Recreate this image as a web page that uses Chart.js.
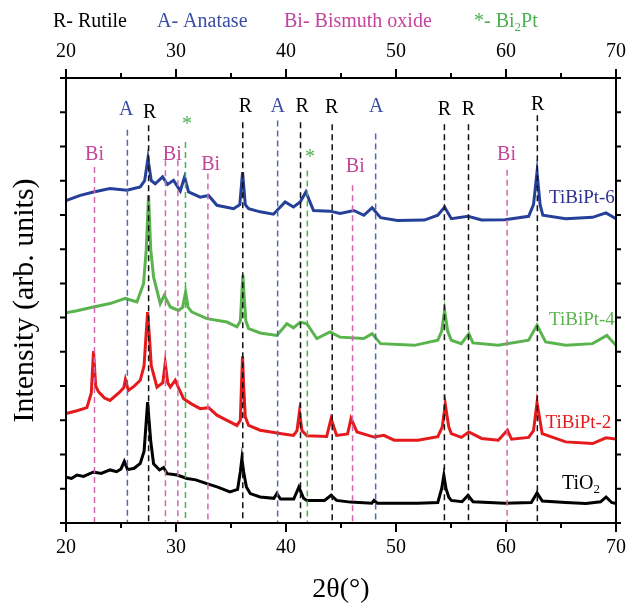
<!DOCTYPE html>
<html>
<head>
<meta charset="utf-8">
<script src="https://cdn.jsdelivr.net/npm/chart.js@4"></script>
<style>
  html, body { margin: 0; padding: 0; background: #fff; }
  #box { width: 628px; height: 603px; }
</style>
</head>
<body>
<div id="box"><canvas id="xrd" width="628" height="603"></canvas></div>
<script>
// data: [2theta, intensity]

const tio2 = [[20,1.34],[20.5,1.30],[21,1.40],[21.6,1.36],[22.5,1.49],[23.2,1.45],[24,1.55],[24.6,1.50],[25,1.58],[25.3,1.80],[25.6,1.56],[26.2,1.60],[26.75,1.74],[27.1,2.1],[27.3,3.0],[27.42,3.53],[27.55,3.0],[27.7,2.4],[27.96,1.73],[28.5,1.55],[28.87,1.62],[29.2,1.44],[30.1,1.40],[31,1.30],[31.8,1.26],[32.8,1.15],[33.8,1.05],[34.9,0.91],[35.6,0.98],[35.85,1.5],[35.99,1.88],[36.15,1.5],[36.4,1.05],[36.75,0.86],[37.65,0.76],[38.9,0.72],[39.17,0.86],[39.5,0.70],[40.7,0.70],[41.17,1.05],[41.6,0.72],[41.9,0.66],[43.5,0.66],[44.1,0.81],[44.6,0.66],[45.85,0.61],[47.8,0.58],[48,0.66],[48.3,0.58],[50,0.58],[52,0.58],[53.8,0.60],[54.15,1.0],[54.35,1.39],[54.55,1.0],[54.8,0.75],[55.03,0.66],[56,0.62],[56.55,0.81],[57,0.62],[59.9,0.58],[62.3,0.60],[62.82,0.88],[63.3,0.64],[65.43,0.60],[67.27,0.57],[68.6,0.62],[69.1,0.76],[69.6,0.60],[70,0.57]];

const tibipt2 = [[20,3.20],[21,3.28],[21.9,3.37],[22.3,3.8],[22.5,5.02],[22.7,4.0],[22.96,3.83],[23.5,3.65],[24,3.58],[24.9,3.83],[25.25,3.95],[25.4,4.19],[25.6,3.95],[25.7,3.88],[26.2,4.0],[26.75,4.17],[27.1,4.6],[27.3,5.6],[27.42,6.16],[27.55,5.6],[27.75,4.6],[28.27,3.97],[28.8,4.1],[29.02,4.67],[29.25,4.1],[29.48,3.97],[29.93,4.17],[30.3,3.9],[30.69,3.63],[31.4,3.48],[32.2,3.34],[32.96,3.37],[33.72,3.15],[34.63,3.0],[35.54,2.85],[35.85,3.0],[35.95,4.0],[36.05,4.87],[36.15,4.0],[36.3,3.1],[36.6,2.85],[37.65,2.71],[39.6,2.61],[40.68,2.56],[41,2.7],[41.22,3.24],[41.45,2.7],[41.9,2.55],[43.7,2.53],[44.1,3.05],[44.6,2.56],[45.6,2.6],[45.91,3.05],[46.45,2.66],[48,2.51],[48.9,2.56],[49.83,2.42],[52,2.42],[53.8,2.52],[54.2,2.8],[54.48,3.47],[54.8,2.8],[55.03,2.61],[55.94,2.5],[56.62,2.66],[57.78,2.47],[59.3,2.42],[60.13,2.71],[60.5,2.45],[62.06,2.5],[62.5,2.7],[62.82,3.51],[63.29,2.61],[65.43,2.37],[67.87,2.32],[69.09,2.49],[70,2.45]];

const tibipt4 = [[20,6.14],[21,6.2],[22.5,6.31],[24,6.41],[25.4,6.56],[26.45,6.46],[27.05,6.99],[27.3,8.0],[27.5,9.57],[27.7,8.0],[27.96,7.19],[28.57,6.41],[28.93,6.65],[29.48,6.31],[30.23,6.21],[30.6,6.3],[30.87,6.75],[31.1,6.3],[31.45,6.16],[32.81,5.97],[34.63,5.87],[35.54,5.73],[35.85,5.9],[35.97,6.6],[36.08,7.24],[36.2,6.6],[36.35,5.9],[36.6,5.68],[37.65,5.55],[39.17,5.48],[40.08,5.82],[40.68,5.7],[41.3,5.87],[41.9,5.82],[42.8,5.39],[44,5.58],[44.9,5.43],[47.08,5.39],[47.83,5.53],[48.6,5.24],[51.67,5.19],[53.8,5.34],[54.15,5.6],[54.42,6.21],[54.7,5.6],[55.03,5.34],[55.94,5.24],[56.62,5.53],[57,5.26],[59.3,5.19],[62.06,5.34],[62.82,5.78],[63.6,5.29],[65.43,5.19],[67.87,5.24],[69.17,5.48],[70,5.19]];

const tibipt6 = [[20,9.42],[21.3,9.57],[22.5,9.67],[24,9.77],[25.54,9.72],[26.75,9.82],[27.15,10.0],[27.45,10.65],[27.75,10.0],[28.11,9.91],[28.78,10.11],[29.23,9.89],[29.78,10.01],[30.39,9.7],[30.78,10.11],[31.14,9.67],[32.2,9.52],[32.96,9.57],[33.72,9.28],[35.23,9.18],[35.8,9.3],[36.05,10.25],[36.3,9.3],[36.6,9.18],[37.65,9.09],[38.86,9.02],[39.92,9.38],[40.68,9.23],[41.29,9.38],[41.81,9.67],[42.5,9.13],[44,9.11],[44.92,9.04],[46.16,9.13],[47.08,8.99],[47.83,9.21],[48.6,8.92],[50.13,8.84],[52.58,8.85],[53.8,8.99],[54.42,9.23],[55.03,8.89],[56.55,8.96],[57.78,8.85],[59.9,8.86],[62.06,8.96],[62.5,9.3],[62.82,10.25],[63.1,9.3],[63.35,8.99],[65.43,8.89],[67.87,8.93],[69.09,9.06],[70,8.89]];

// reference lines (phase markers)
const markerPos  = [22.59, 25.58, 27.51, 29.04, 30.17, 30.86, 32.9, 36.07, 39.24, 41.32, 41.94, 44.2, 46.05, 48.15, 54.4, 56.59, 60.1, 62.85];
const markerTop  = [10.40, 11.49, 11.62, 10.60, 10.60, 11.13, 10.21, 11.71, 11.76, 11.71, 10.30, 11.65, 9.87, 11.38, 11.65, 11.65, 10.32, 11.91];
const markerKind = ['Bi', 'A', 'R', 'Bi', 'Bi', '*', 'Bi', 'R', 'A', 'R', '*', 'R', 'Bi', 'A', 'R', 'R', 'Bi', 'R'];

// marker letters above the lines
const tagText = ['Bi', 'A', 'R', 'Bi', '*', 'Bi', 'R', 'A', 'R', '*', 'R', 'Bi', 'A', 'R', 'R', 'Bi', 'R'];
const tagX    = [22.59, 25.47, 27.6, 29.66, 31.0, 33.15, 36.3, 39.24, 41.46, 42.19, 44.16, 46.3, 48.2, 54.4, 56.59, 60.05, 62.89];
const tagY    = [10.77, 12.06, 11.98, 10.77, 11.62, 10.48, 12.17, 12.17, 12.17, 10.68, 12.14, 10.40, 12.15, 12.06, 12.06, 10.77, 12.22];

const seriesNames = ['TiBiPt-6', 'TiBiPt-4', 'TiBiPt-2', 'TiO'];
const nameX = [63.91, 63.91, 63.59, 65.09];
const nameY = [9.5, 5.92, 2.93, 1.16];

const lineColor = { R: '#111111', A: '#5068b4', Bi: '#d366ae', '*': '#45b64a' };
const tagColor  = { R: '#000000', A: '#3a4ea6', Bi: '#c4449c', '*': '#4cb050' };
const seriesColor = ['#26409a', '#5ab44e', '#e41a1c', '#000000'];
const nameColor   = ['#2e3192', '#5ab44e', '#e41a1c', '#000000'];

const SERIF = '"Liberation Serif", "Times New Roman", serif';

// build datasets

const datasets = [];
markerPos.forEach((p, i) => {
    datasets.push({
        data: [{ x: p, y: markerTop[i] }, { x: p, y: 0 }],
        borderColor: lineColor[markerKind[i]],
        borderWidth: 1.5,
        borderDash: [6, 4],
        pointRadius: 0
    });
});
[tibipt6, tibipt4, tibipt2, tio2].forEach((s, i) => {
    datasets.push({
        data: s.map(d => ({ x: d[0], y: d[1] })),
        borderColor: seriesColor[i],
        borderWidth: 3,
        pointRadius: 0,
        tension: 0
    });
});

// frame, ticks and text

function subText(ctx, parts, x, y) {
    // parts: [text, isSub]
    let cx = x;
    parts.forEach(pt => {
        const size = pt[1] ? 13 : 20;
        ctx.font = size + 'px ' + SERIF;
        ctx.fillText(pt[0], cx, pt[1] ? y + 6 : y);
        cx += ctx.measureText(pt[0]).width;
    });
}

const decor = {
    id: 'decor',
    afterDraw(chart) {
        const ctx = chart.ctx;
        const xs = chart.scales.x, ys = chart.scales.y;
        const a = chart.chartArea;
        ctx.save();
        ctx.strokeStyle = '#000';
        ctx.lineWidth = 2;
        ctx.strokeRect(a.left, a.top, a.right - a.left, a.bottom - a.top);

        ctx.beginPath();
        for (let v = 20; v <= 70; v += 5) {
            const px = xs.getPixelForValue(v);
            const len = v % 10 === 0 ? 9 : 5;
            ctx.moveTo(px, a.bottom); ctx.lineTo(px, a.bottom + len);
            ctx.moveTo(px, a.top); ctx.lineTo(px, a.top - len);
        }
        for (let v = 0; v <= 13; v++) {
            const py = ys.getPixelForValue(v);
            ctx.moveTo(a.left, py); ctx.lineTo(a.left - 6, py);
            ctx.moveTo(a.right, py); ctx.lineTo(a.right + 5, py);
        }
        ctx.stroke();

        // marker letters
        ctx.textBaseline = 'middle';
        ctx.textAlign = 'center';
        ctx.font = '20px ' + SERIF;
        tagText.forEach((t, i) => {
            ctx.fillStyle = tagColor[t];
            ctx.fillText(t, xs.getPixelForValue(tagX[i]), ys.getPixelForValue(tagY[i]));
        });

        // series names
        ctx.textAlign = 'left';
        seriesNames.forEach((n, i) => {
            ctx.fillStyle = nameColor[i];
            const px = xs.getPixelForValue(nameX[i]), py = ys.getPixelForValue(nameY[i]);
            if (n === 'TiO') subText(ctx, [['TiO', false], ['2', true]], px, py);
            else { ctx.font = '19px ' + SERIF; ctx.fillText(n, px, py); }
        });

        // header legend
        ctx.font = '20px ' + SERIF;
        ctx.fillStyle = '#000'; ctx.fillText('R- Rutile', 53, 22);
        ctx.fillStyle = '#3a4ea6'; ctx.fillText('A- Anatase', 157, 22);
        ctx.fillStyle = '#c4449c'; ctx.fillText('Bi- Bismuth oxide', 284, 22);
        ctx.fillStyle = '#4cb050'; subText(ctx, [['*- Bi', false], ['2', true], ['Pt', false]], 474, 22);

        // axis titles
        ctx.fillStyle = '#000';
        ctx.textAlign = 'center';
        ctx.font = '28px ' + SERIF;
        ctx.fillText('2\u03b8(\u00b0)', (a.left + a.right) / 2, 590);
        ctx.save();
        ctx.translate(25, (a.top + a.bottom) / 2);
        ctx.rotate(-Math.PI / 2);
        ctx.font = '30px ' + SERIF;
        ctx.fillText('Intensity (arb. units)', 0, 0);
        ctx.restore();
        ctx.restore();
    }
};

const tickFont = { family: SERIF, size: 20 };

function fixX(h) {
    return s => { s.height = h; s.paddingLeft = 0; s.paddingRight = 0; };
}

new Chart(document.getElementById('xrd'), {
    type: 'line',
    data: { datasets: datasets },
    options: {
        responsive: false,
        animation: false,
        layout: { padding: 0 },
        plugins: { legend: { display: false }, tooltip: { enabled: false } },
        scales: {
            x: {
                type: 'linear', position: 'bottom', min: 20, max: 70,
                grid: { display: false, drawTicks: false }, border: { display: false },
                ticks: { stepSize: 10, font: tickFont, color: '#000', padding: 13, maxRotation: 0 },
                afterFit: fixX(80)
            },
            x2: {
                type: 'linear', position: 'top', min: 20, max: 70,
                grid: { display: false, drawTicks: false }, border: { display: false },
                ticks: { stepSize: 10, font: tickFont, color: '#000', padding: 14, maxRotation: 0 },
                afterFit: fixX(78)
            },
            y: {
                min: 0, max: 13,
                grid: { display: false, drawTicks: false }, border: { display: false },
                ticks: { display: false },
                afterFit: s => { s.width = 66; }
            },
            y2: {
                position: 'right', min: 0, max: 13,
                grid: { display: false, drawTicks: false }, border: { display: false },
                ticks: { display: false },
                afterFit: s => { s.width = 12; }
            }
        }
    },
    plugins: [decor]
});
</script>
</body>
</html>
